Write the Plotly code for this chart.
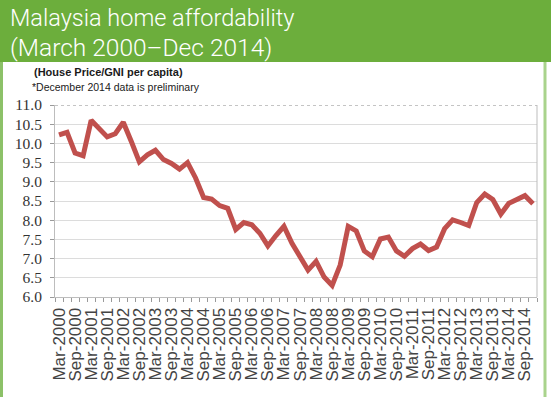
import plotly.graph_objects as go

# Quarterly series, Mar-2000 .. Dec-2014
years = list(range(2000, 2015))
months = ["Mar", "Jun", "Sep", "Dec"]
quarters = [f"{m}-{y}" for y in years for m in months]

# House price / GNI per capita
affordability = [
    10.22, 10.29, 9.75, 9.68, 10.60, 10.38, 10.17, 10.25,
    10.55, 10.05, 9.52, 9.70, 9.82, 9.58, 9.48, 9.33,
    9.50, 9.10, 8.59, 8.55, 8.38, 8.31, 7.76, 7.94,
    7.88, 7.66, 7.33, 7.60, 7.84, 7.40, 7.02, 6.70,
    6.93, 6.52, 6.30, 6.83, 7.84, 7.72, 7.20, 7.05,
    7.51, 7.56, 7.20, 7.06, 7.26, 7.38, 7.21, 7.30,
    7.78, 8.01, 7.94, 7.86, 8.46, 8.68, 8.54, 8.16,
    8.44, 8.55, 8.64, 8.43,
]

# Axis labels every second quarter (Mar / Sep)
tick_labels = [q for q in quarters if q.startswith(("Mar", "Sep"))]
tick_idx = [quarters.index(q) for q in tick_labels]
y_ticks = [6.0, 6.5, 7.0, 7.5, 8.0, 8.5, 9.0, 9.5, 10.0, 10.5, 11.0]

title_lines = ["Malaysia home affordability", "(March 2000\u2013Dec 2014)"]
subtitle = "(House Price/GNI per capita)"
footnote = "*December 2014 data is preliminary"

W, H = 551, 397
L, R, T, B = 55, 14, 105, 100
PW, PH = W - L - R, H - T - B


def px(x):
    return (x - L) / PW


def py(y):
    return (H - B - y) / PH


GREEN = "#6cae3c"

fig = go.Figure()
fig.add_trace(go.Scatter(
    x=list(range(len(quarters))),
    y=affordability,
    mode="lines",
    line=dict(color="#c0504d", width=5),
    hoverinfo="skip",
))

shapes = [
    # green title band
    dict(type="rect", xref="paper", yref="paper", x0=px(-5), x1=px(W + 5),
         y0=py(62), y1=py(-5), fillcolor=GREEN, line_width=0, layer="below"),
    # side borders of the panel
    dict(type="line", xref="paper", yref="paper", x0=px(1.5), x1=px(1.5),
         y0=py(62), y1=py(H + 5), line=dict(color="#8cc168", width=3)),
    dict(type="line", xref="paper", yref="paper", x0=px(545), x1=px(545),
         y0=py(62), y1=py(H + 5), line=dict(color="#a9d38c", width=3)),
    # plot frame: dotted top, solid right
    dict(type="line", xref="paper", yref="y", x0=0, x1=1, y0=11, y1=11,
         line=dict(color="#8a8a8a", width=1, dash="dot")),
    dict(type="line", xref="paper", yref="paper", x0=1, x1=1, y0=0, y1=1,
         line=dict(color="#bdbdbd", width=1)),
]

annotations = [
    dict(text=title_lines[0], x=px(8), y=py(18), xref="paper", yref="paper",
         xanchor="left", yanchor="middle", showarrow=False,
         font=dict(family="Roboto", size=23.5, color="white", weight=300)),
    dict(text=title_lines[1], x=px(8), y=py(47), xref="paper", yref="paper",
         xanchor="left", yanchor="middle", showarrow=False,
         font=dict(family="Roboto", size=24.5, color="white", weight=300)),
    dict(text=subtitle, x=px(32), y=py(72), xref="paper", yref="paper",
         xanchor="left", yanchor="middle", showarrow=False,
         font=dict(family="Liberation Sans", size=11, color="#1a1a1a", weight="bold")),
    dict(text=footnote, x=px(30), y=py(87), xref="paper", yref="paper",
         xanchor="left", yanchor="middle", showarrow=False,
         font=dict(family="Liberation Sans", size=10.5, color="#1a1a1a")),
]

fig.update_layout(
    width=W, height=H,
    margin=dict(l=L, r=R, t=T, b=B, pad=0),
    paper_bgcolor="white",
    plot_bgcolor="white",
    showlegend=False,
    shapes=shapes,
    annotations=annotations,
    xaxis=dict(
        range=[-0.5, len(quarters) - 0.5],
        tickmode="array", tickvals=tick_idx, ticktext=tick_labels,
        tickangle=-90, ticks="", showgrid=False,
        showline=True, linecolor="#bdbdbd", linewidth=1,
        tickfont=dict(family="Liberation Sans", size=17, color="#444444"),
        ticklabelstandoff=3,
        minor=dict(tickmode="linear", tick0=-0.5, dtick=1, ticks="outside",
                   ticklen=4, tickcolor="#9a9a9a", showgrid=False),
        zeroline=False, fixedrange=True,
    ),
    yaxis=dict(
        range=[6, 11], tickmode="array", tickvals=y_ticks,
        ticktext=[f"{v:.1f}" for v in y_ticks],
        ticks="outside", ticklen=4, tickcolor="#9a9a9a",
        ticklabelstandoff=5,
        showgrid=True, gridcolor="#dcdcdc", gridwidth=1,
        showline=True, linecolor="#bdbdbd", linewidth=1,
        tickfont=dict(family="Liberation Serif", size=15.5, color="#333333"),
        zeroline=False, fixedrange=True,
    ),
)

fig.write_html("out.html")
